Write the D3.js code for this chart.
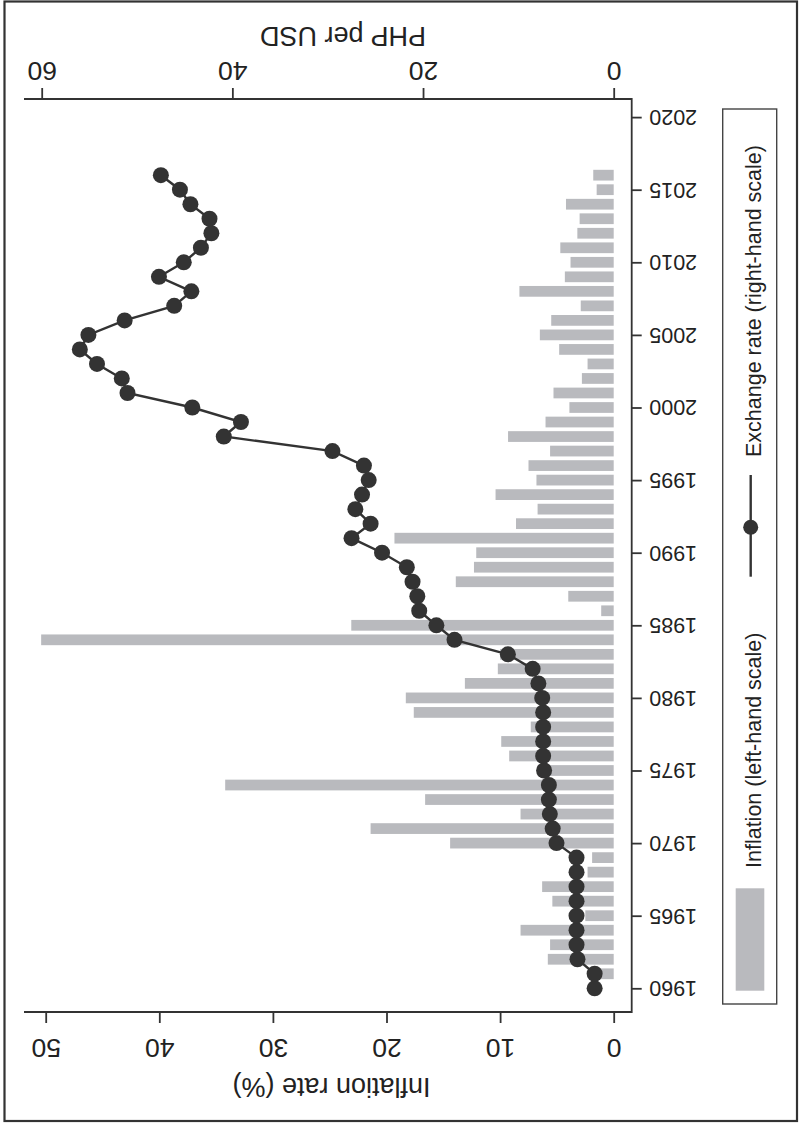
<!DOCTYPE html>
<html>
<head>
<meta charset="utf-8">
<script src="https://cdn.jsdelivr.net/npm/d3@7/dist/d3.min.js"></script>
<style>
  html, body { margin: 0; padding: 0; background: #fff; }
  svg { display: block; }
  text { font-family: "Liberation Sans", Arial, Helvetica, sans-serif; fill: #222; }
</style>
</head>
<body>
<svg id="chart" width="799" height="1123"></svg>
<script>
// Philippines: annual CPI inflation (%) and official exchange rate (PHP per USD)
const years = [1960, 1961, 1962, 1963, 1964, 1965, 1966, 1967, 1968, 1969,
  1970, 1971, 1972, 1973, 1974, 1975, 1976, 1977, 1978, 1979,
  1980, 1981, 1982, 1983, 1984, 1985, 1986, 1987, 1988, 1989,
  1990, 1991, 1992, 1993, 1994, 1995, 1996, 1997, 1998, 1999,
  2000, 2001, 2002, 2003, 2004, 2005, 2006, 2007, 2008, 2009,
  2010, 2011, 2012, 2013, 2014, 2015, 2016];

const inflation = [null, 1.6, 5.8, 5.6, 8.2, 2.5, 5.4, 6.3, 2.3, 1.9,
  14.4, 21.4, 8.2, 16.6, 34.2, 6.7, 9.2, 9.9, 7.3, 17.6,
  18.3, 13.1, 10.2, 10.0, 50.4, 23.1, 1.1, 4.0, 13.9, 12.3,
  12.1, 19.3, 8.6, 6.7, 10.4, 6.8, 7.5, 5.6, 9.3, 6.0,
  3.9, 5.3, 2.8, 2.3, 4.8, 6.5, 5.5, 2.9, 8.3, 4.3,
  3.8, 4.7, 3.2, 3.0, 4.2, 1.5, 1.8];

const exchangeRate = [2.0, 2.0, 3.8, 3.9, 3.9, 3.9, 3.9, 3.9, 3.9, 3.9,
  6.0, 6.4, 6.7, 6.8, 6.8, 7.3, 7.4, 7.4, 7.4, 7.4,
  7.5, 7.9, 8.5, 11.1, 16.7, 18.6, 20.4, 20.6, 21.1, 21.7,
  24.3, 27.5, 25.5, 27.1, 26.4, 25.7, 26.2, 29.5, 40.9, 39.1,
  44.2, 51.0, 51.6, 54.2, 56.0, 55.1, 51.3, 46.1, 44.3, 47.7,
  45.1, 43.3, 42.2, 42.4, 44.4, 45.5, 47.5];

const yearTicks = [1960, 1965, 1970, 1975, 1980, 1985, 1990, 1995, 2000, 2005, 2010, 2015, 2020];
const inflationTicks = [0, 10, 20, 30, 40, 50];
const rateTicks = [0, 20, 40, 60];

const legendLabels = ["Inflation (left-hand scale)", "Exchange rate (right-hand scale)"];
const inflationTitle = "Inflation rate (%)";
const rateTitle = "PHP per USD";

// The figure is laid out turned a quarter turn: years run bottom-to-top,
// values grow to the left, and labels are set upside down.
const svg = d3.select("#chart");
const dark = "#333333";
const barGrey = "#b9babe";

const plot = { left: 24, right: 631.7, top: 99, bottom: 1012 };

const yYear = d3.scaleLinear().domain([1960, 2020]).range([988.3, 117.1]);
const xInfl = d3.scaleLinear().domain([0, 50]).range([613.7, 45.7]);
const xRate = d3.scaleLinear().domain([0, 60]).range([613.7, 41.7]);

// outer frame
svg.append("rect")
  .attr("x", 4.5).attr("y", 1.5)
  .attr("width", 792.5).attr("height", 1119.5)
  .attr("fill", "none").attr("stroke", dark).attr("stroke-width", 2.2);

// bars
const barThick = (yYear(1960) - yYear(1961)) * 0.74;
const barData = years.map((yr, i) => ({ yr, v: inflation[i] })).filter(d => d.v != null);
svg.append("g").selectAll("rect")
  .data(barData)
  .join("rect")
  .attr("x", d => xInfl(d.v))
  .attr("y", d => yYear(d.yr) - barThick / 2)
  .attr("width", d => xInfl(0) - xInfl(d.v))
  .attr("height", barThick)
  .attr("fill", barGrey);

// exchange-rate line with markers
const pts = years.map((yr, i) => ({ yr, v: exchangeRate[i] }));
svg.append("path")
  .datum(pts)
  .attr("fill", "none")
  .attr("stroke", dark)
  .attr("stroke-width", 2.4)
  .attr("d", d3.line().x(d => xRate(d.v)).y(d => yYear(d.yr)));
svg.append("g").selectAll("circle")
  .data(pts)
  .join("circle")
  .attr("cx", d => xRate(d.v))
  .attr("cy", d => yYear(d.yr))
  .attr("r", 8)
  .attr("fill", dark);

// axis lines (top, right, bottom)
const axisLines = svg.append("g").attr("stroke", dark).attr("stroke-width", 1.8).attr("fill", "none");
axisLines.append("path").attr("d", `M${plot.left},${plot.top}H${plot.right}V${plot.bottom}H${plot.left}`);

function styleAxis(g, labelDx, labelDy, size) {
  g.select(".domain").remove();
  g.selectAll(".tick line").attr("stroke", dark).attr("stroke-width", 1.8);
  g.selectAll(".tick text")
    .attr("x", null).attr("y", null)
    .attr("dy", "0.35em")
    .attr("text-anchor", "middle")
    .attr("fill", "#222")
    .style("font-size", size + "px")
    .attr("transform", `translate(${labelDx},${labelDy}) rotate(180)`);
  g.attr("font-family", null).attr("font-size", null);
}

// year axis on the right
svg.append("g")
  .attr("transform", `translate(${plot.right},0)`)
  .call(d3.axisRight(yYear).tickValues(yearTicks).tickFormat(d3.format("d")).tickSize(10))
  .call(g => styleAxis(g, 41.5, 0, 21.5));

// exchange-rate axis on top
svg.append("g")
  .attr("transform", `translate(0,${plot.top})`)
  .call(d3.axisTop(xRate).tickValues(rateTicks).tickFormat(d3.format("d")).tickSize(11))
  .call(g => styleAxis(g, 0, -28, 26.5));

// inflation axis at the bottom
svg.append("g")
  .attr("transform", `translate(0,${plot.bottom})`)
  .call(d3.axisBottom(xInfl).tickValues(inflationTicks).tickFormat(d3.format("d")).tickSize(11))
  .call(g => styleAxis(g, 0, 36.3, 26.5));

// axis titles
function flippedText(cx, cy, str, size) {
  svg.append("text")
    .attr("transform", `translate(${cx},${cy}) rotate(180)`)
    .attr("text-anchor", "middle")
    .attr("dy", "0.35em")
    .style("font-size", size + "px")
    .text(str);
}
flippedText(343, 36, rateTitle, 27);
flippedText(331.5, 1087, inflationTitle, 27);

// legend
const legend = svg.append("g");
legend.append("rect")
  .attr("x", 722.7).attr("y", 109)
  .attr("width", 54).attr("height", 895)
  .attr("fill", "#fff").attr("stroke", "#444").attr("stroke-width", 1.4);

legend.append("rect")
  .attr("x", 735.7).attr("y", 888.3)
  .attr("width", 28.6).attr("height", 102.4)
  .attr("fill", barGrey);
legend.append("text")
  .attr("transform", "translate(753.5,868) rotate(-90)")
  .attr("text-anchor", "start")
  .attr("dy", "0.35em")
  .style("font-size", "21.5px")
  .text(legendLabels[0]);

legend.append("line")
  .attr("x1", 750.7).attr("x2", 750.7)
  .attr("y1", 475).attr("y2", 576.7)
  .attr("stroke", dark).attr("stroke-width", 2.4);
legend.append("circle")
  .attr("cx", 750.7).attr("cy", 527.3).attr("r", 7.5)
  .attr("fill", dark);
legend.append("text")
  .attr("transform", "translate(753.5,457) rotate(-90)")
  .attr("text-anchor", "start")
  .attr("dy", "0.35em")
  .style("font-size", "21.5px")
  .text(legendLabels[1]);
</script>
</body>
</html>
